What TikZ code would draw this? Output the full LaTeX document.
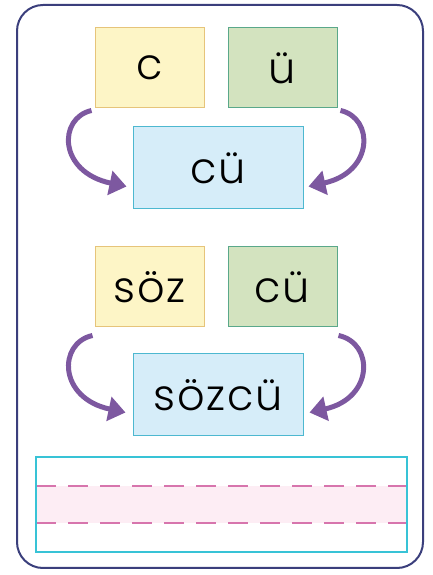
\documentclass[tikz,border=0pt]{standalone}
\usepackage{fontspec}
\setmainfont{Poppins}[UprightFont={* Light}]
\usetikzlibrary{positioning,arrows.meta}

\definecolor{framecol}{HTML}{3B3F7C}
\definecolor{yelfill}{HTML}{FDF5C6}
\definecolor{yeldraw}{HTML}{E6C47A}
\definecolor{grnfill}{HTML}{D3E3BF}
\definecolor{grndraw}{HTML}{5AA88A}
\definecolor{blufill}{HTML}{D6EDF9}
\definecolor{bludraw}{HTML}{4DB8D0}
\definecolor{arrcol}{HTML}{7D58A0}
\definecolor{linebox}{HTML}{38C3D6}
\definecolor{bandfill}{HTML}{FDEDF4}
\definecolor{bandline}{HTML}{D775AD}

\tikzset{
  letterbox/.style={minimum width=109pt, minimum height=80pt, line width=1pt,
    inner sep=0pt, font=\fontsize{43}{50}\selectfont\addfontfeature{LetterSpace=4}},
  syl/.style={letterbox, fill=yelfill, draw=yeldraw},
  snd/.style={letterbox, fill=grnfill, draw=grndraw},
  word/.style={letterbox, minimum width=170pt, minimum height=82pt, fill=blufill, draw=bludraw},
  joinarrow/.style={draw=arrcol, line width=5pt, -{Triangle[length=17pt,width=24pt]}}
}

\begin{document}
\begin{tikzpicture}[x=1pt,y=1pt]
    \useasboundingbox (0,0) rectangle (433,575);

    % outer frame
    \draw[framecol, line width=2pt, rounded corners=26pt] (17,7) rectangle (423,570);

    % first group
    \node[syl] (c) at (149.5,507) {c};
    \node[snd] (u) at (282.5,507) {ü};
    \node[word] (cu) at (218,407) {cü};

    \draw[joinarrow] ([xshift=-3pt,yshift=-2pt]c.south west)
        .. controls (58,457) and (58,403) .. ([xshift=-6pt,yshift=23pt]cu.south west);
    \draw[joinarrow] ([xshift=3pt,yshift=-2pt]u.south east)
        .. controls (374,457) and (374,403) .. ([xshift=5pt,yshift=23pt]cu.south east);

    % second group
    \node[syl] (soz) at (149.5,288) {söz};
    \node[snd] (cu2) at (282.5,288) {cü};
    \node[word] (sozcu) at (218,180) {sözcü};

    \draw[joinarrow] ([xshift=-2pt,yshift=-8pt]soz.south west)
        .. controls (58,232) and (58,177) .. ([xshift=-7pt,yshift=24pt]sozcu.south west);
    \draw[joinarrow] ([xshift=1pt,yshift=-8pt]cu2.south east)
        .. controls (374,232) and (374,177) .. ([xshift=6pt,yshift=24pt]sozcu.south east);

    % writing lines
    \fill[bandfill] (36,52) rectangle (407,89);
    \draw[bandline, line width=2.2pt, dash pattern=on 20pt off 12pt] (36,89) -- (407,89);
    \draw[bandline, line width=2.2pt, dash pattern=on 20pt off 12pt] (36,52) -- (407,52);
    \draw[linebox, line width=2pt] (36,23) rectangle (407,118);
\end{tikzpicture}
\end{document}
